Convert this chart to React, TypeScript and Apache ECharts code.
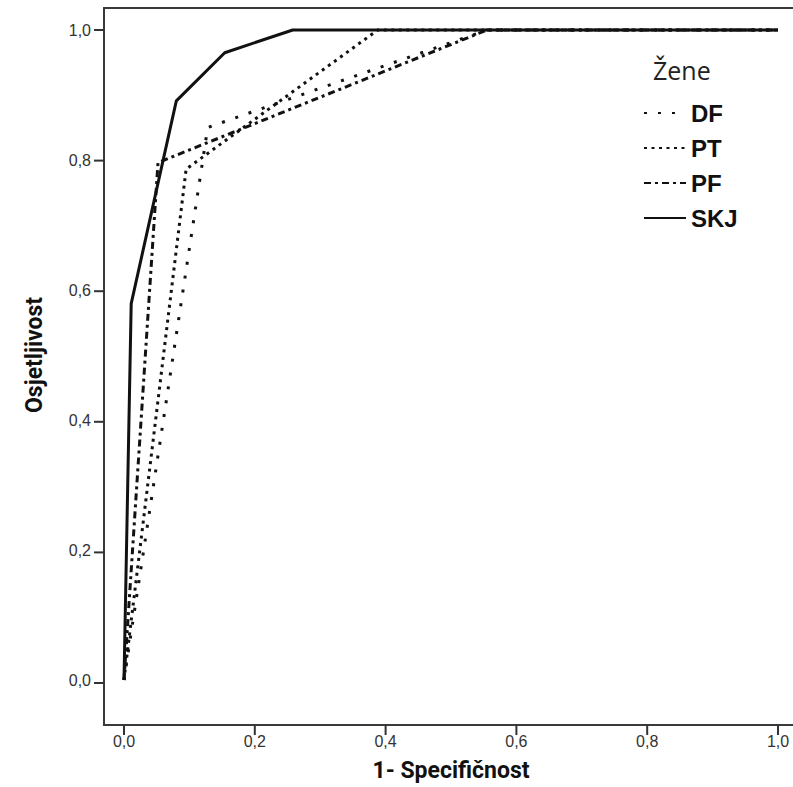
import React, { useEffect, useRef } from "react";
import * as echarts from "echarts";

// Tick values (labels use a comma decimal separator)
const tickMin = 0;
const tickMax = 1;
const tickStep = 0.2;
const tickValues = [0, 0.2, 0.4, 0.6, 0.8, 1.0];

// ROC curves: [1 - specificity, sensitivity]
const dfPoints = [
  [0, 0],
  [0.128, 0.85],
  [0.555, 1.0],
  [1.0, 1.0],
];
const ptPoints = [
  [0, 0],
  [0.095, 0.786],
  [0.388, 1.0],
  [1.0, 1.0],
];
const pfPoints = [
  [0, 0],
  [0.052, 0.796],
  [0.555, 1.0],
  [1.0, 1.0],
];
const skjPoints = [
  [0, 0],
  [0.011, 0.579],
  [0.08, 0.891],
  [0.154, 0.965],
  [0.258, 1.0],
  [1.0, 1.0],
];

const legendNames = ["DF", "PT", "PF", "SKJ"];

const fmt = (v: number) => v.toFixed(1).replace(".", ",");

// layout of the chart (pixels)
const CHART_W = 810;
const CHART_H = 787;
const DATA_LEFT = 124;
const DATA_TOP = 30;
const DATA_RIGHT = 32;
const DATA_BOTTOM = 104;
const X_OFFSET = 42;
const Y_OFFSET = 20;

export default function App() {
  const ref = useRef<HTMLDivElement>(null);

  useEffect(() => {
    const chart = echarts.init(ref.current!, null, { renderer: "svg" });
    const ink = "#111";
    const frame = "#3a3a3a";
    const lineBase = { color: ink, width: 3, cap: "butt" as const };
    const hiddenAxis = {
      type: "value",
      gridIndex: 0,
      min: 0,
      max: 1,
      show: false,
    };
    const mkSeries = (name: string, data: number[][], type: any) => ({
      name,
      type: "line",
      xAxisIndex: 1,
      yAxisIndex: 1,
      symbol: "none",
      clip: false,
      data,
      itemStyle: { color: ink },
      lineStyle: { ...lineBase, type },
    });

    // tick marks on the frame, positioned by the same linear layout as the data grid
    const dataW = CHART_W - DATA_LEFT - DATA_RIGHT;
    const dataH = CHART_H - DATA_TOP - DATA_BOTTOM;
    const xPix = (v: number) => DATA_LEFT + ((v - tickMin) / (tickMax - tickMin)) * dataW;
    const yPix = (v: number) => DATA_TOP + dataH - ((v - tickMin) / (tickMax - tickMin)) * dataH;
    const xLineY = DATA_TOP + dataH + X_OFFSET;
    const yLineX = DATA_LEFT - Y_OFFSET;
    const ticks: any[] = [];
    tickValues.forEach((v) => {
      ticks.push({
        type: "rect",
        silent: true,
        z: 100,
        shape: { x: xPix(v) - 1, y: xLineY, width: 2, height: 10 },
        style: { fill: "#333" },
      });
      ticks.push({
        type: "rect",
        silent: true,
        z: 100,
        shape: { x: yLineX - 10, y: yPix(v) - 1, width: 10, height: 2 },
        style: { fill: "#333" },
      });
    });

    chart.setOption({
      animation: false,
      backgroundColor: "#fff",
      title: {
        text: "Žene",
        left: 648,
        top: 52,
        textStyle: {
          fontSize: 25,
          fontWeight: "normal",
          color: "#222",
          fontFamily: "Open Sans",
        },
      },
      legend: {
        orient: "vertical",
        left: 638,
        top: 96,
        itemWidth: 42,
        itemHeight: 14,
        itemGap: 11,
        data: legendNames,
        itemStyle: { opacity: 0 },
        textStyle: {
          fontSize: 24,
          fontWeight: "bold",
          color: ink,
          fontFamily: "Liberation Sans",
        },
      },
      grid: [
        {
          // plot frame
          left: DATA_LEFT - Y_OFFSET,
          top: 8,
          right: 10,
          bottom: DATA_BOTTOM - X_OFFSET,
          show: true,
          borderColor: frame,
          borderWidth: 2,
          backgroundColor: "transparent",
        },
        {
          // data area spanning 0..1 on both axes
          left: DATA_LEFT,
          top: DATA_TOP,
          right: DATA_RIGHT,
          bottom: DATA_BOTTOM,
        },
      ],
      graphic: ticks,
      xAxis: [
        hiddenAxis,
        {
          type: "value",
          gridIndex: 1,
          min: tickMin,
          max: tickMax,
          interval: tickStep,
          offset: X_OFFSET,
          axisLine: { show: false, onZero: false },
          splitLine: { show: false },
          axisTick: { show: false },
          axisLabel: {
            formatter: fmt,
            fontSize: 16,
            color: "#333",
            margin: 11,
            fontFamily: "Liberation Sans",
          },
          name: "1- Specifičnost",
          nameLocation: "middle",
          nameGap: 37,
          nameTextStyle: {
            fontSize: 23,
            fontWeight: "bold",
            color: ink,
            fontFamily: "Roboto",
          },
        },
      ],
      yAxis: [
        hiddenAxis,
        {
          type: "value",
          gridIndex: 1,
          min: tickMin,
          max: tickMax,
          interval: tickStep,
          offset: Y_OFFSET,
          axisLine: { show: false, onZero: false },
          splitLine: { show: false },
          axisTick: { show: false },
          axisLabel: {
            formatter: fmt,
            fontSize: 16,
            color: "#333",
            margin: 13,
            fontFamily: "Liberation Sans",
          },
          name: "Osjetljivost",
          nameLocation: "middle",
          nameGap: 58,
          nameRotate: 90,
          nameTextStyle: {
            fontSize: 23,
            fontWeight: "bold",
            color: ink,
            fontFamily: "Roboto",
          },
        },
      ],
      series: [
        mkSeries("DF", dfPoints, [3, 11]),
        mkSeries("PT", ptPoints, [3, 4.5]),
        mkSeries("PF", pfPoints, [7, 4, 3, 4]),
        mkSeries("SKJ", skjPoints, "solid"),
      ],
    });

    return () => chart.dispose();
  }, []);

  return (
    <div
      style={{
        position: "absolute",
        left: 0,
        top: 0,
        width: 793,
        height: 787,
        overflow: "hidden",
        background: "#fff",
      }}
    >
      <div ref={ref} style={{ width: CHART_W, height: CHART_H }} />
    </div>
  );
}
